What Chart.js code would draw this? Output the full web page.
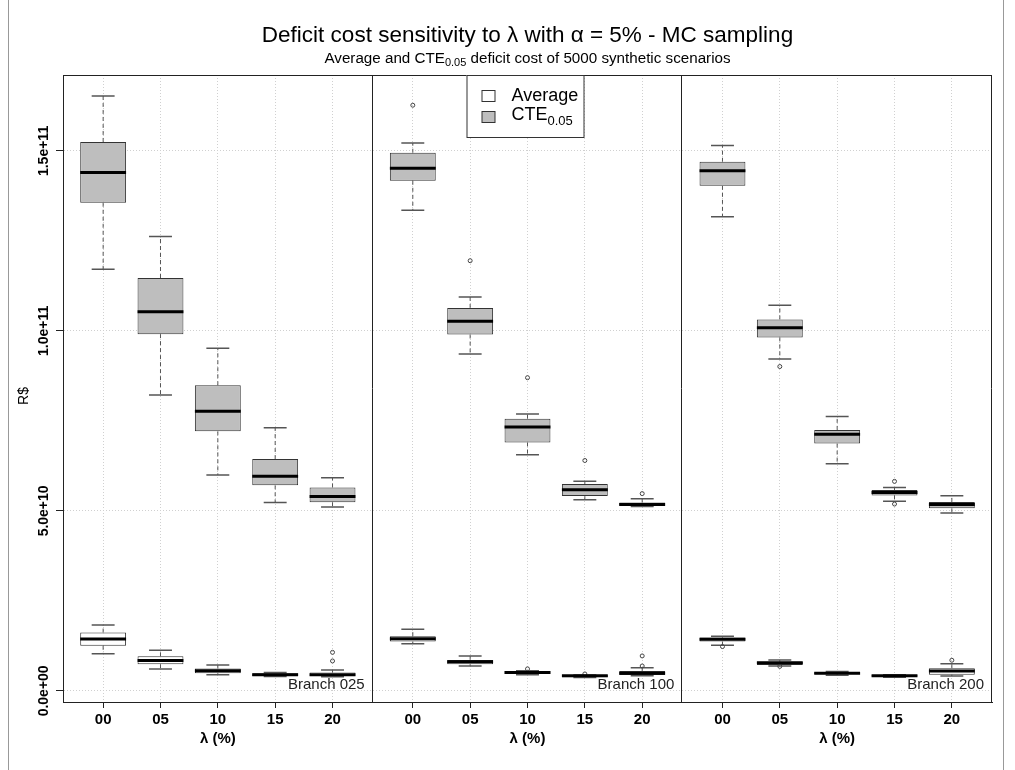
<!DOCTYPE html>
<html>
<head>
<meta charset="utf-8">
<script src="https://cdn.jsdelivr.net/npm/chart.js@4.4.0/dist/chart.umd.min.js"></script>
<style>
  body { margin: 0; background: #fff; }
  canvas { display: block; }
</style>
</head>
<body>
<canvas id="boxChart" width="1015" height="770"></canvas>
<script>
const lambdas = ["00", "05", "10", "15", "20"];
const branches = ["Branch 025", "Branch 100", "Branch 200"];
const yTicks = [0, 5e10, 1e11, 1.5e11];
const yTickLabels = ["0.0e+00", "5.0e+10", "1.0e+11", "1.5e+11"];

// box statistics, order: branch 025, 100, 200 / lambda 00..20
const cteHigh = [16.53e10, 12.62e10, 9.52e10, 7.31e10, 5.92e10, 15.22e10, 10.94e10, 7.69e10, 5.82e10, 5.34e10, 15.15e10, 10.71e10, 7.62e10, 5.65e10, 5.42e10];
const cteQ3 = [15.25e10, 11.47e10, 8.49e10, 6.44e10, 5.65e10, 14.95e10, 10.64e10, 7.56e10, 5.75e10, 5.23e10, 14.70e10, 10.32e10, 7.25e10, 5.58e10, 5.25e10];
const cteMed = [14.40e10, 10.53e10, 7.77e10, 5.96e10, 5.40e10, 14.52e10, 10.27e10, 7.33e10, 5.59e10, 5.18e10, 14.45e10, 10.09e10, 7.13e10, 5.51e10, 5.18e10];
const cteQ1 = [13.56e10, 9.91e10, 7.21e10, 5.71e10, 5.24e10, 14.17e10, 9.90e10, 6.90e10, 5.41e10, 5.14e10, 14.03e10, 9.82e10, 6.87e10, 5.43e10, 5.07e10];
const cteLow = [11.71e10, 8.22e10, 6.00e10, 5.23e10, 5.11e10, 13.35e10, 9.36e10, 6.56e10, 5.31e10, 5.12e10, 13.17e10, 9.22e10, 6.31e10, 5.27e10, 4.94e10];

const avgHigh = [1.83e10, 1.13e10, 0.72e10, 0.51e10, 0.58e10, 1.71e10, 0.97e10, 0.56e10, 0.44e10, 0.64e10, 1.52e10, 0.86e10, 0.54e10, 0.45e10, 0.75e10];
const avgQ3 = [1.62e10, 0.96e10, 0.62e10, 0.49e10, 0.51e10, 1.52e10, 0.86e10, 0.55e10, 0.44e10, 0.55e10, 1.48e10, 0.81e10, 0.52e10, 0.44e10, 0.63e10];
const avgMed = [1.44e10, 0.84e10, 0.56e10, 0.45e10, 0.45e10, 1.45e10, 0.81e10, 0.51e10, 0.42e10, 0.49e10, 1.43e10, 0.78e10, 0.49e10, 0.42e10, 0.55e10];
const avgQ1 = [1.25e10, 0.74e10, 0.49e10, 0.41e10, 0.41e10, 1.37e10, 0.74e10, 0.47e10, 0.38e10, 0.44e10, 1.37e10, 0.72e10, 0.46e10, 0.39e10, 0.45e10];
const avgLow = [1.03e10, 0.61e10, 0.45e10, 0.40e10, 0.39e10, 1.31e10, 0.69e10, 0.45e10, 0.37e10, 0.42e10, 1.27e10, 0.69e10, 0.43e10, 0.38e10, 0.41e10];

// outliers: index of the box and value
const cteOutIdx = [5, 6, 7, 8, 9, 11, 13, 13];
const cteOutVal = [16.27e10, 11.95e10, 8.70e10, 6.40e10, 5.48e10, 9.01e10, 5.82e10, 5.19e10];
const avgOutIdx = [4, 4, 7, 8, 9, 9, 10, 11, 14];
const avgOutVal = [1.07e10, 0.83e10, 0.61e10, 0.47e10, 0.97e10, 0.69e10, 1.23e10, 0.68e10, 0.85e10];

// each branch gets its own panel on one linear axis
const panelWidth = 5.4;
const positions = branches.flatMap((b, p) => lambdas.map((l, i) => p * panelWidth + i + 1));
const tickNames = branches.flatMap(() => lambdas);

function boxData(q1, q3) {
  return positions.map((x, i) => ({ x: x, y: [q1[i], q3[i]] }));
}

function whiskerData(lo, q1, q3, hi) {
  const pts = [];
  positions.forEach((x, i) => {
    pts.push({ x: x, y: q3[i] }, { x: x, y: hi[i] }, { x: x, y: null });
    pts.push({ x: x, y: q1[i] }, { x: x, y: lo[i] }, { x: x, y: null });
  });
  return pts;
}

function segData(values, half) {
  const pts = [];
  positions.forEach((x, i) => {
    pts.push({ x: x - half, y: values[i] }, { x: x + half, y: values[i] }, { x: x, y: null });
  });
  return pts;
}

function outlierData(idx, vals) {
  return idx.map((k, i) => ({ x: positions[k], y: vals[i] }));
}

const lineBase = { type: "line", pointRadius: 0, spanGaps: false, fill: false };

const datasets = [
  Object.assign({}, lineBase, { data: segData(cteMed, 0.4), borderColor: "#000", borderWidth: 3, order: 0 }),
  Object.assign({}, lineBase, { data: segData(avgMed, 0.4), borderColor: "#000", borderWidth: 3, order: 0 }),
  { type: "line", showLine: false, data: outlierData(cteOutIdx, cteOutVal), pointRadius: 2, pointBorderColor: "#444", pointBackgroundColor: "rgba(0,0,0,0)", pointBorderWidth: 1, order: 1 },
  { type: "line", showLine: false, data: outlierData(avgOutIdx, avgOutVal), pointRadius: 2, pointBorderColor: "#444", pointBackgroundColor: "rgba(0,0,0,0)", pointBorderWidth: 1, order: 1 },
  { type: "bar", data: boxData(cteQ1, cteQ3), backgroundColor: "#bebebe", borderColor: "#333", borderWidth: 1, borderSkipped: false, grouped: false, barPercentage: 0.8, categoryPercentage: 1, order: 2 },
  { type: "bar", data: boxData(avgQ1, avgQ3), backgroundColor: "#fff", borderColor: "#333", borderWidth: 1, borderSkipped: false, grouped: false, barPercentage: 0.8, categoryPercentage: 1, order: 2 },
  Object.assign({}, lineBase, { data: whiskerData(cteLow, cteQ1, cteQ3, cteHigh), borderColor: "#555", borderWidth: 1, borderDash: [4, 3], order: 3 }),
  Object.assign({}, lineBase, { data: whiskerData(avgLow, avgQ1, avgQ3, avgHigh), borderColor: "#555", borderWidth: 1, borderDash: [4, 3], order: 3 }),
  Object.assign({}, lineBase, { data: segData(cteHigh, 0.2).concat(segData(cteLow, 0.2)), borderColor: "#555", borderWidth: 1.5, order: 3 }),
  Object.assign({}, lineBase, { data: segData(avgHigh, 0.2).concat(segData(avgLow, 0.2)), borderColor: "#555", borderWidth: 1.5, order: 3 }),
];

const FONT = "'Liberation Sans', Arial, Helvetica, sans-serif";

// draws text pieces one after another (used for the subscripts)
function drawParts(ctx, parts, x, y, align) {
  let total = 0;
  parts.forEach((p) => {
    ctx.font = (p.weight || "normal") + " " + p.size + "px " + FONT;
    p.w = ctx.measureText(p.t).width;
    total += p.w;
  });
  let cx = align === "center" ? x - total / 2 : x;
  ctx.textAlign = "left";
  ctx.textBaseline = "alphabetic";
  parts.forEach((p) => {
    ctx.font = (p.weight || "normal") + " " + p.size + "px " + FONT;
    ctx.fillText(p.t, cx, y + (p.dy || 0));
    cx += p.w;
  });
}

const overlay = {
  id: "overlay",
  afterDraw(chart) {
    const ctx = chart.ctx;
    const a = chart.chartArea;
    const x = chart.scales.x;
    const y = chart.scales.y;
    ctx.save();
    ctx.fillStyle = "#000";
    ctx.strokeStyle = "#222";
    ctx.lineWidth = 1;

    // top / right borders and panel separators
    ctx.beginPath();
    ctx.moveTo(a.left, a.top + 0.5);
    ctx.lineTo(a.right, a.top + 0.5);
    ctx.moveTo(a.right - 0.5, a.top);
    ctx.lineTo(a.right - 0.5, a.bottom);
    for (let p = 1; p < branches.length; p++) {
      const sx = Math.round(x.getPixelForValue(p * panelWidth + 0.3)) - 0.5;
      ctx.moveTo(sx, a.top);
      ctx.lineTo(sx, a.bottom);
    }
    ctx.stroke();

    // outer frame
    ctx.strokeStyle = "#999";
    ctx.beginPath();
    ctx.moveTo(8.5, 0);
    ctx.lineTo(8.5, 770);
    ctx.moveTo(1003.5, 0);
    ctx.lineTo(1003.5, 770);
    ctx.stroke();

    // y tick labels, rotated like R
    ctx.font = "bold 14px " + FONT;
    ctx.textAlign = "center";
    ctx.textBaseline = "middle";
    yTicks.forEach((v, i) => {
      ctx.save();
      ctx.translate(44, y.getPixelForValue(v));
      ctx.rotate(-Math.PI / 2);
      ctx.fillText(yTickLabels[i], 0, 0);
      ctx.restore();
    });

    // y title
    ctx.save();
    ctx.font = "14px " + FONT;
    ctx.translate(24, 396);
    ctx.rotate(-Math.PI / 2);
    ctx.fillText("R$", 0, 0);
    ctx.restore();

    // x titles and branch names
    branches.forEach((b, p) => {
      ctx.font = "bold 15px " + FONT;
      ctx.textAlign = "center";
      ctx.textBaseline = "alphabetic";
      ctx.fillText("λ (%)", x.getPixelForValue(p * panelWidth + 3), 743);
      ctx.font = "15px " + FONT;
      ctx.textAlign = "right";
      ctx.fillStyle = "#222";
      ctx.fillText(b, x.getPixelForValue((p + 1) * panelWidth + 0.3) - 8, 689);
      ctx.fillStyle = "#000";
    });

    // legend
    const cx = (a.left + a.right) / 2;
    ctx.fillStyle = "#fff";
    ctx.fillRect(cx - 61, a.top, 117, 62);
    ctx.strokeStyle = "#333";
    ctx.strokeRect(cx - 61 + 0.5, a.top + 0.5, 117, 62);
    ctx.fillStyle = "#fff";
    ctx.fillRect(cx - 45.5, 90.5, 13, 11);
    ctx.strokeRect(cx - 45.5, 90.5, 13, 11);
    ctx.fillStyle = "#bebebe";
    ctx.fillRect(cx - 45.5, 111.5, 13, 11);
    ctx.strokeRect(cx - 45.5, 111.5, 13, 11);
    ctx.fillStyle = "#000";
    drawParts(ctx, [{ t: "Average", size: 18 }], cx - 16, 101, "left");
    drawParts(ctx, [{ t: "CTE", size: 18 }, { t: "0.05", size: 13, dy: 5 }], cx - 16, 120, "left");

    // title and subtitle
    drawParts(ctx, [{ t: "Deficit cost sensitivity to λ with α = 5% - MC sampling", size: 22.5 }], cx, 42, "center");
    drawParts(ctx, [
      { t: "Average and CTE", size: 15.2 },
      { t: "0.05", size: 11, dy: 3 },
      { t: " deficit cost of 5000 synthetic scenarios", size: 15.2 },
    ], cx, 63, "center");
    ctx.restore();
  },
};

new Chart(document.getElementById("boxChart"), {
  type: "bar",
  data: { datasets: datasets },
  options: {
    responsive: false,
    animation: false,
    layout: { padding: { top: 75, right: 23, left: 0, bottom: 0 } },
    plugins: { legend: { display: false }, tooltip: { enabled: false }, title: { display: false } },
    scales: {
      x: {
        type: "linear",
        min: 0.3,
        max: branches.length * panelWidth + 0.3,
        offset: false,
        afterBuildTicks: (s) => { s.ticks = positions.map((v) => ({ value: v })); },
        afterFit: (s) => { s.height = 68; },
        ticks: {
          autoSkip: false,
          maxRotation: 0,
          padding: 3,
          color: "#000",
          font: { family: FONT, size: 15, weight: "bold" },
          callback: (v, i) => tickNames[i],
        },
        grid: { color: "#d0d0d0", offset: false, tickLength: 6, tickColor: "#222", tickWidth: 1 },
        border: { color: "#222", width: 1, dash: [1, 2] },
      },
      y: {
        type: "linear",
        min: -3.1e9,
        max: 1.711e11,
        afterBuildTicks: (s) => { s.ticks = yTicks.map((v) => ({ value: v })); },
        afterFit: (s) => { s.width = 63; },
        ticks: { display: false },
        grid: { color: "#d0d0d0", tickLength: 7, tickColor: "#222", tickWidth: 1 },
        border: { color: "#222", width: 1, dash: [1, 2] },
      },
    },
  },
  plugins: [overlay],
});
</script>
</body>
</html>
